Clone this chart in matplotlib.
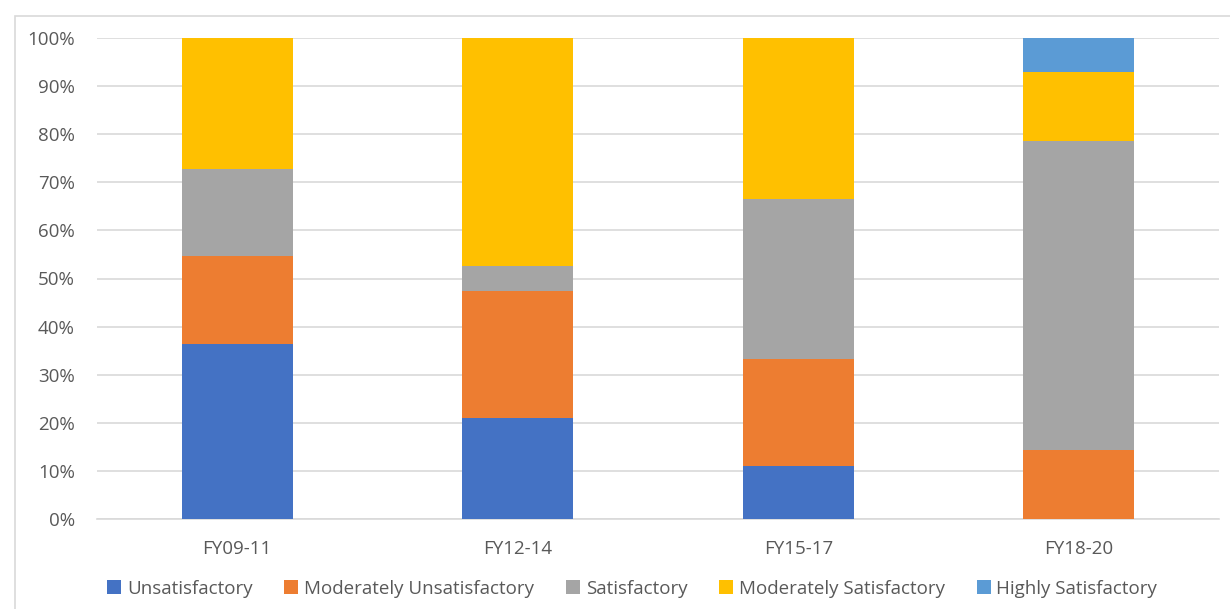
#! /usr/bin/env python
# Stacked 100% bar chart of project ratings by fiscal period

import matplotlib.pyplot as plt
from matplotlib.patches import Rectangle
from matplotlib.ticker import PercentFormatter

# Data (shares in percent)
periods = ['FY09-11', 'FY12-14', 'FY15-17', 'FY18-20']
unsatisfactory = [36.4, 21.1, 11.1, 0.0]
mod_unsatisfactory = [18.2, 26.3, 22.2, 14.3]
satisfactory = [18.2, 5.3, 33.3, 64.3]
mod_satisfactory = [27.3, 47.4, 33.3, 14.3]
highly_satisfactory = [0.0, 0.0, 0.0, 7.1]

series = [
    ('Unsatisfactory', unsatisfactory, '#4472C4'),
    ('Moderately Unsatisfactory', mod_unsatisfactory, '#ED7D31'),
    ('Satisfactory', satisfactory, '#A5A5A5'),
    ('Moderately Satisfactory', mod_satisfactory, '#FFC000'),
    ('Highly Satisfactory', highly_satisfactory, '#5B9BD5'),
]

plt.rcParams['font.family'] = ['Open Sans', 'DejaVu Sans']
text_color = '#595959'

fig = plt.figure(figsize=(12.3, 6.09), dpi=100)
ax = fig.add_axes([97 / 1230, 1 - 519 / 609, (1219 - 97) / 1230, (519 - 38) / 609])

# outer chart border
fig.patches.append(Rectangle((15 / 1230, -0.01), 1.02, 1 - 16 / 609 + 0.01,
                             transform=fig.transFigure, fill=False,
                             edgecolor='#D9D9D9', linewidth=1.2))

x = range(len(periods))
bottom = [0.0] * len(periods)
for name, vals, color in series:
    ax.bar(x, vals, width=0.395, bottom=bottom, color=color, label=name, zorder=3)
    bottom = [b + v for b, v in zip(bottom, vals)]

ax.set_xlim(-0.5, len(periods) - 0.5)
ax.set_ylim(0, 100)
ax.set_yticks(range(0, 101, 10))
ax.yaxis.set_major_formatter(PercentFormatter(decimals=0))
ax.set_xticks(list(x))
ax.set_xticklabels(periods)
ax.grid(axis='y', color='#D9D9D9', linewidth=1.2, zorder=0)
ax.tick_params(axis='both', length=0, labelsize=13.5, colors=text_color)
ax.tick_params(axis='x', pad=15)
ax.tick_params(axis='y', pad=16)
for s in ax.spines.values():
    s.set_visible(False)
ax.spines['bottom'].set_visible(True)
ax.spines['bottom'].set_color('#D9D9D9')
ax.spines['bottom'].set_linewidth(1.2)

ax.legend(loc='center', bbox_to_anchor=(0.477, -0.145), ncol=5, frameon=False,
          fontsize=13.5, labelcolor=text_color, handlelength=0.75, handleheight=0.75,
          handletextpad=0.3, columnspacing=1.7)

plt.savefig('out.png')
